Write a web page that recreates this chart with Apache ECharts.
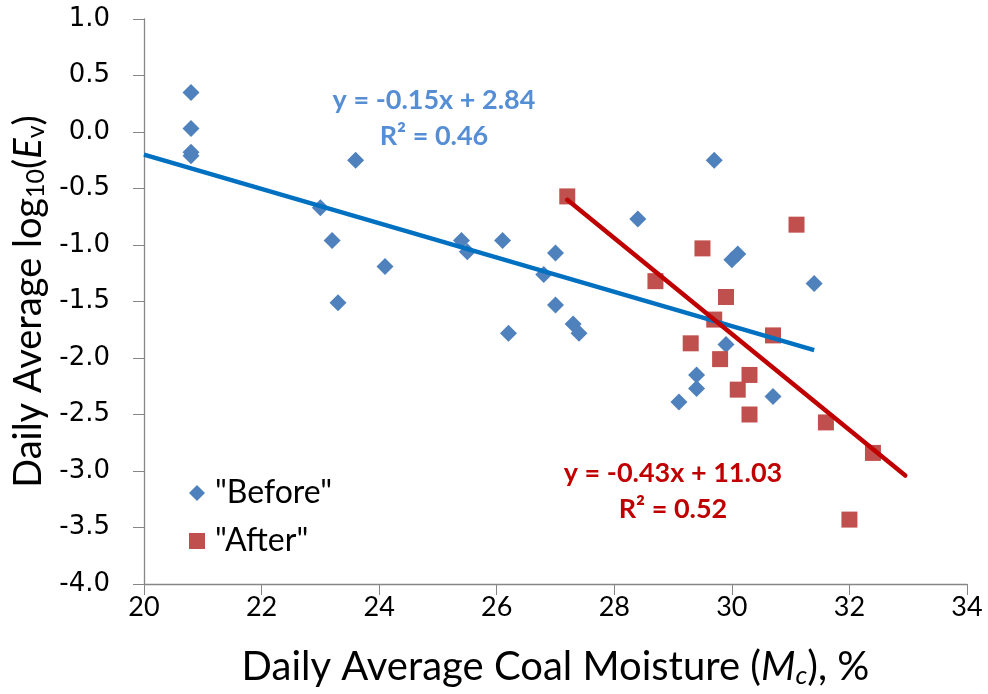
<!DOCTYPE html>
<html>
<head>
<meta charset="utf-8">
<script src="https://cdn.jsdelivr.net/npm/echarts@6/dist/echarts.min.js"></script>
<style>html,body{margin:0;padding:0;background:#fff}#c{width:988px;height:694px}</style>
</head>
<body>
<div id="c"></div>
<script>
var beforeX = [20.8, 20.8, 20.8, 20.8, 23.6, 23.0, 23.2, 23.3, 24.1, 25.4, 25.5, 26.1, 26.2, 26.8, 27.0, 27.0, 27.3, 27.4, 28.4, 29.7, 29.4, 29.4, 29.1, 29.9, 30.0, 30.1, 30.7, 31.4];
var beforeY = [0.35, 0.03, -0.18, -0.21, -0.25, -0.67, -0.96, -1.51, -1.19, -0.96, -1.06, -0.96, -1.78, -1.26, -1.07, -1.53, -1.70, -1.78, -0.77, -0.25, -2.15, -2.27, -2.39, -1.88, -1.13, -1.08, -2.34, -1.34];
var afterX = [27.2, 31.1, 29.5, 28.7, 29.9, 29.7, 30.7, 29.3, 29.8, 30.3, 30.1, 30.3, 31.6, 32.4, 32.0];
var afterY = [-0.57, -0.82, -1.03, -1.32, -1.46, -1.66, -1.80, -1.87, -2.01, -2.15, -2.28, -2.50, -2.57, -2.84, -3.43];
var beforeTrendX = [20, 31.4];
var beforeTrendY = [-0.20, -1.93];
var afterTrendX = [27.2, 32.95];
var afterTrendY = [-0.60, -3.04];
var xTicks = [20, 22, 24, 26, 28, 30, 32, 34];
var yTicks = [1.0, 0.5, 0.0, -0.5, -1.0, -1.5, -2.0, -2.5, -3.0, -3.5, -4.0];
var seriesNames = ['"Before"', '"After"'];
var beforeEq = ['y = -0.15x + 2.84', 'R\u00b2 = 0.46'];
var afterEq = ['y = -0.43x + 11.03', 'R\u00b2 = 0.52'];

function pairs(xs, ys) { return xs.map(function (x, i) { return [x, ys[i]]; }); }

var chart = echarts.init(document.getElementById('c'));
var axisColor = '#868686';
chart.setOption({
  animation: false,
  grid: { left: 144, right: 21, top: 19, bottom: 107 },
  xAxis: {
    type: 'value', min: xTicks[0], max: xTicks[xTicks.length - 1], interval: 2,
    splitLine: { show: false },
    axisLine: { onZero: false, lineStyle: { color: axisColor, width: 1.3 } },
    axisTick: { show: true, length: 11, lineStyle: { color: axisColor } },
    axisLabel: { fontFamily: 'Lato', fontSize: 27, color: '#000', margin: 10 },
    name: '{n|Daily Average Coal Moisture (}{i|M}{s|c}{n|), %}',
    nameLocation: 'middle', nameGap: 61,
    nameTextStyle: {
      rich: {
        n: { fontFamily: 'Lato', fontSize: 40, lineHeight: 44, color: '#000' },
        i: { fontFamily: 'Lato', fontSize: 40, lineHeight: 44, fontStyle: 'italic', color: '#000' },
        s: { fontFamily: 'Lato', fontSize: 26, fontStyle: 'italic', color: '#000', verticalAlign: 'bottom', padding: [14, 0, 0, 0] }
      }
    }
  },
  yAxis: {
    type: 'value', min: -4, max: 1, interval: 0.5,
    splitLine: { show: false },
    axisLine: { show: true, onZero: false, lineStyle: { color: axisColor, width: 1.3 } },
    axisTick: { show: true, length: 11, lineStyle: { color: axisColor } },
    axisLabel: { fontFamily: 'DejaVu Sans', fontSize: 26, color: '#000', margin: 34,
      formatter: function (v) { return v.toFixed(1); } },
    name: '{n|Daily Average log}{s|10}{n|(}{i|E}{s|v}{n|)}',
    nameLocation: 'middle', nameGap: 94,
    nameTextStyle: {
      rich: {
        n: { fontFamily: 'Lato', fontSize: 38, lineHeight: 42, color: '#000' },
        i: { fontFamily: 'Lato', fontSize: 38, lineHeight: 42, fontStyle: 'italic', color: '#000' },
        s: { fontFamily: 'Lato', fontSize: 25, color: '#000', padding: [14, 0, 0, 0] }
      }
    }
  },
  legend: {
    orient: 'vertical', left: 184, top: 470, itemGap: 12,
    itemWidth: 16, itemHeight: 16,
    textStyle: { fontFamily: 'Lato', fontSize: 32, lineHeight: 36, color: '#000', padding: [0, 0, 0, 5] },
    data: [{ name: seriesNames[0], icon: 'diamond' }, { name: seriesNames[1], icon: 'rect' }]
  },
  series: [
    { name: seriesNames[0], type: 'scatter', symbol: 'diamond', symbolSize: 17,
      itemStyle: { color: '#4F81BD', opacity: 1 }, data: pairs(beforeX, beforeY), z: 3 },
    { name: seriesNames[1], type: 'scatter', symbol: 'rect', symbolSize: 16,
      itemStyle: { color: '#C0504D', opacity: 1 }, data: pairs(afterX, afterY), z: 3 },
    { name: 'beforeTrend', type: 'line', data: pairs(beforeTrendX, beforeTrendY), showSymbol: false,
      lineStyle: { color: '#0070C0', width: 4.5 }, z: 4, silent: true },
    { name: 'afterTrend', type: 'line', data: pairs(afterTrendX, afterTrendY), showSymbol: false,
      lineStyle: { color: '#C00000', width: 4.5, cap: 'round' }, z: 4, silent: true }
  ],
  graphic: [
    { type: 'text', x: 434, y: 100, style: { text: beforeEq[0], font: 'bold 27px Lato', fill: '#558ED5', textAlign: 'center', textVerticalAlign: 'middle' } },
    { type: 'text', x: 434, y: 136, style: { text: beforeEq[1], font: 'bold 27px Lato', fill: '#558ED5', textAlign: 'center', textVerticalAlign: 'middle' } },
    { type: 'text', x: 673, y: 473, style: { text: afterEq[0], font: 'bold 27px Lato', fill: '#C00000', textAlign: 'center', textVerticalAlign: 'middle' } },
    { type: 'text', x: 673, y: 509, style: { text: afterEq[1], font: 'bold 27px Lato', fill: '#C00000', textAlign: 'center', textVerticalAlign: 'middle' } }
  ]
});
</script>
</body>
</html>
